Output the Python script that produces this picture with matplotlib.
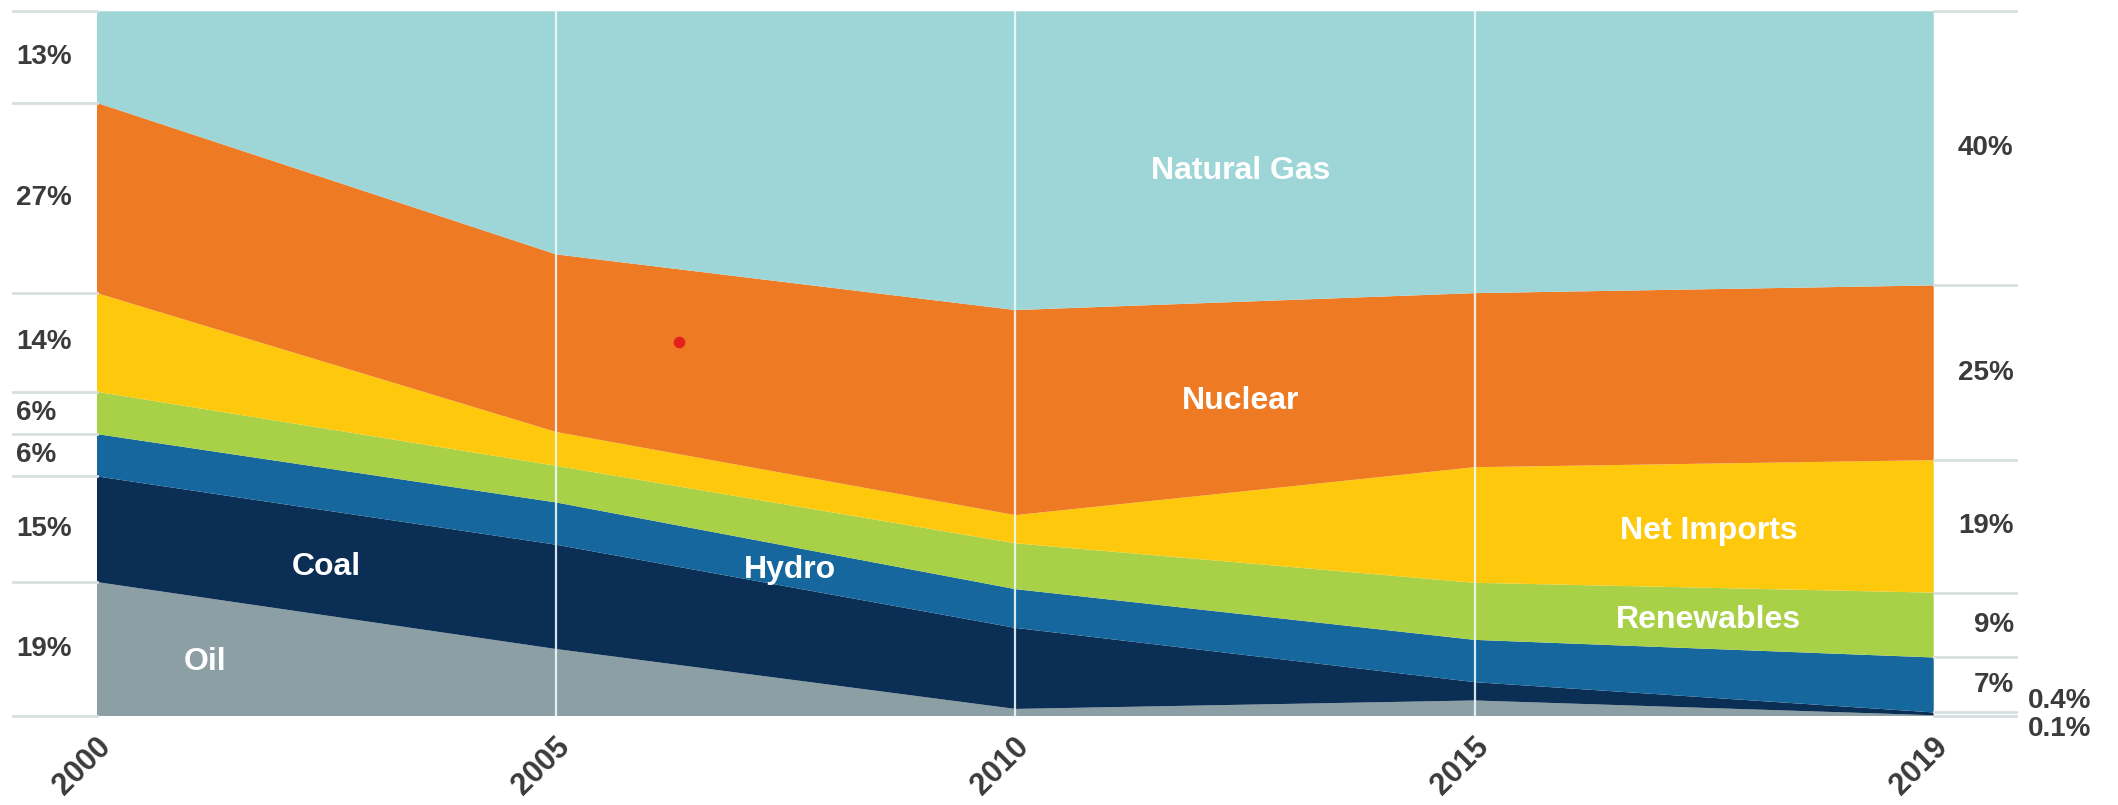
import matplotlib
matplotlib.use("Agg")
import matplotlib.pyplot as plt
import matplotlib.transforms as mtransforms
import numpy as np

# ---- data (percent share) ----
years = ["2000", "2005", "2010", "2015", "2019"]
sources = ["Oil", "Coal", "Hydro", "Renewables", "Net Imports", "Nuclear", "Natural Gas"]
oil = [19.0, 9.5, 1.0, 2.2, 0.1]
coal = [15.0, 14.8, 11.5, 2.6, 0.4]
hydro = [6.0, 6.0, 5.5, 6.0, 7.8]
renewables = [6.0, 5.2, 6.5, 8.1, 9.2]
net_imports = [14.0, 4.8, 4.0, 16.4, 18.8]
nuclear = [27.0, 25.2, 29.1, 24.7, 24.8]
natural_gas = [13.0, 34.5, 42.4, 40.0, 38.9]

left_labels = ["19%", "15%", "6%", "6%", "14%", "27%", "13%"]
right_labels = ["0.1%", "0.4%", "7%", "9%", "19%", "25%", "40%"]

colors = ["#8c9fa5", "#0b2e54", "#15679d", "#a9d148", "#fec80c", "#ee7b24", "#9ed6d7"]

series = [oil, coal, hydro, renewables, net_imports, nuclear, natural_gas]

fig = plt.figure(figsize=(21.18, 8.05), dpi=100)
ax = fig.add_axes([0.0458, 0.1106, 0.9130 - 0.0458, 0.986 - 0.1106])
x = np.arange(len(years))
ax.stackplot(x, *series, colors=colors, linewidth=0)
ax.set_xlim(0, len(years) - 1)
ax.set_ylim(0, 100)
for s in ax.spines.values():
    s.set_visible(False)
ax.set_xticks([])
ax.set_yticks([])

# vertical year lines
for xi in x[1:-1]:
    ax.axvline(xi, color="#eef8fb", lw=1.6, alpha=0.9, zorder=3)

cum = np.cumsum(np.array(series), axis=0)  # shape (7, 5)
base = np.vstack([np.zeros(len(years)), cum[:-1]])

# left side lines and labels
lbl_kw = dict(fontsize=20, fontweight="bold", color="#3b3b3b", family="Liberation Sans")
left_x0 = -0.183
for b in np.concatenate([[0], cum[:, 0]]):
    ax.plot([left_x0, 0], [min(b, 100), min(b, 100)], color="#d6dfdf", lw=2, clip_on=False, zorder=1)
for i, lab in enumerate(left_labels):
    mid = (base[i, 0] + cum[i, 0]) / 2
    ax.text(-0.176, mid, lab, ha="left", va="center", clip_on=False, **lbl_kw)

# right side lines and labels
right_x1 = 4.18
for b in np.concatenate([[0], cum[1:, -1]]):
    ax.plot([4, right_x1], [min(b, 100), min(b, 100)], color="#d6dfdf", lw=2, clip_on=False, zorder=1)
for i, lab in enumerate(right_labels):
    if i >= 2:
        mid = (base[i, -1] + cum[i, -1]) / 2
        ax.text(4.174, mid, lab, ha="right", va="center", clip_on=False, **lbl_kw)
ax.text(4.205, 2.1, right_labels[1], ha="left", va="center", clip_on=False, **lbl_kw)
ax.text(4.205, -1.8, right_labels[0], ha="left", va="center", clip_on=False, **lbl_kw)

# in-area labels
in_kw = dict(fontsize=23, fontweight="bold", color="white", ha="center", va="center",
             family="Liberation Sans", zorder=5)
ax.text(2.49, 77.4, "Natural Gas", **in_kw)
ax.text(2.49, 44.7, "Nuclear", **in_kw)
ax.text(3.51, 26.2, "Net Imports", **in_kw)
ax.text(3.51, 13.6, "Renewables", **in_kw)
ax.text(1.51, 20.7, "Hydro", **in_kw)
ax.text(0.50, 21.1, "Coal", **in_kw)
ax.text(0.235, 7.7, "Oil", **in_kw)

# small red blot present in the reference
ax.scatter([1.268], [53.0], s=70, color="#e3201b", marker="o", zorder=6, linewidths=0)

# year labels
off = mtransforms.ScaledTranslation(0.2, -0.16, fig.dpi_scale_trans)
for xi, yr in zip(x, years):
    ax.text(xi, 0, yr, rotation=45, ha="right", va="top", transform=ax.transData + off,
            clip_on=False, fontsize=22, fontweight="bold", color="#3b3b3b", family="Liberation Sans")

fig.savefig("out.png", dpi=100)
